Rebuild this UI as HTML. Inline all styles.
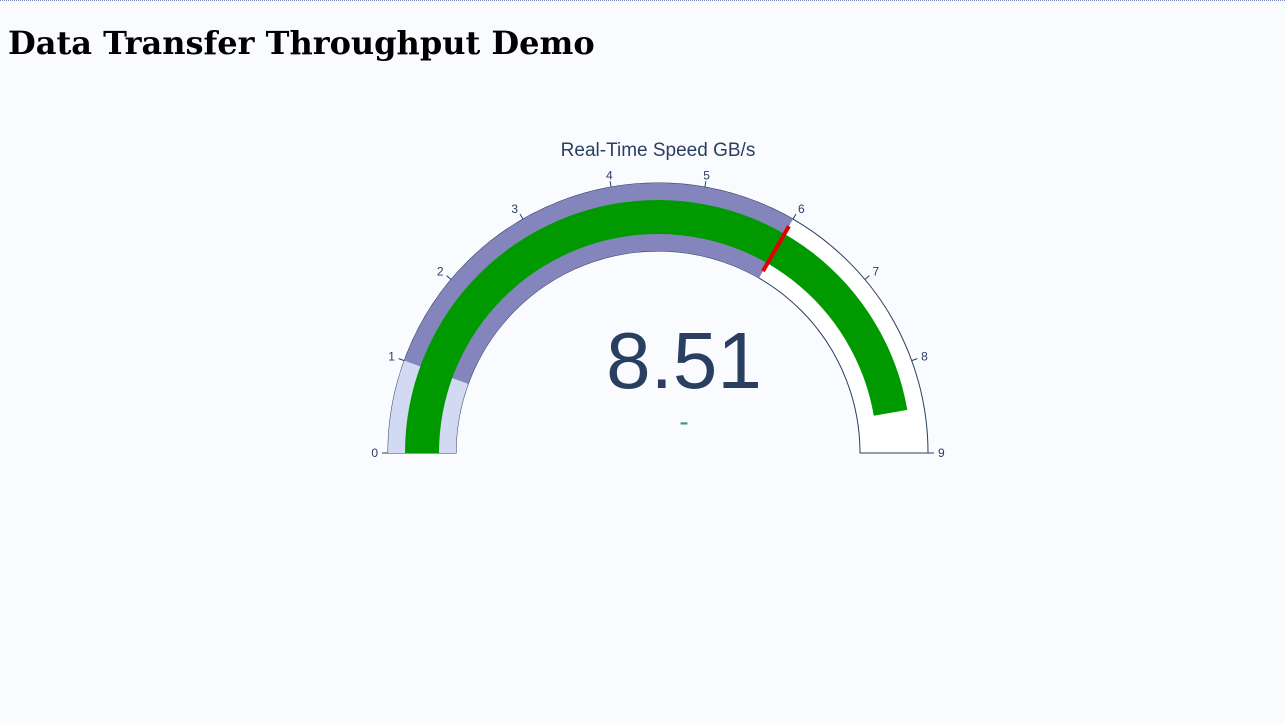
<!DOCTYPE html>
<html><head><meta charset="utf-8"><style>
html,body{margin:0;padding:0;background:#f9fbfe;width:1285px;height:723px;overflow:hidden}
#topline{position:absolute;left:0;top:0;width:1285px;border-top:1px dotted #7a8cb8}
h1{position:absolute;left:8px;top:24px;margin:0;font-family:"DejaVu Serif",serif;font-size:32px;font-weight:bold;color:#000}
svg{position:absolute;left:0;top:0}
</style></head><body>
<div id="topline"></div>
<h1>Data Transfer Throughput Demo</h1>
<svg id="g" width="1285" height="723"></svg>
<script>
const axisRange=[0,9];
const tickValues=[0,1,2,3,4,5,6,7,8,9];
const stepRanges=[[0,1],[1,6]];
const stepColors=['#d2d9f2','#8585bd'];
const gaugeValue=[8.51];
const thresholdValue=[6];
const titleText='Real-Time Speed GB/s';
const NS='http://www.w3.org/2000/svg';
const svg=document.getElementById('g');
const cx=658,cy=453,R=270,r0=202;
function ang(v){return Math.PI*(1-(v-axisRange[0])/(axisRange[1]-axisRange[0]));}
function pt(v,rad){const a=ang(v);return [cx+rad*Math.cos(a),cy-rad*Math.sin(a)];}
function arc(v0,v1,ri,ro){const a=pt(v0,ro),b=pt(v1,ro),c=pt(v1,ri),d=pt(v0,ri);
return `M${a[0]},${a[1]} A${ro},${ro} 0 0 1 ${b[0]},${b[1]} L${c[0]},${c[1]} A${ri},${ri} 0 0 0 ${d[0]},${d[1]} Z`;}
function el(t,attrs){const e=document.createElementNS(NS,t);for(const k in attrs)e.setAttribute(k,attrs[k]);svg.appendChild(e);return e;}
let bg=el('path',{d:arc(axisRange[0],axisRange[1],r0,R),fill:'#fff',stroke:'#2a3f5f','stroke-width':1});


stepRanges.forEach((s,i)=>{const p=el('path',{d:arc(s[0],s[1],r0,R),fill:stepColors[i]});

});
const bar=el('path',{d:arc(axisRange[0],gaugeValue[0],219,253),fill:'#009a00'});


const t0=pt(thresholdValue[0],r0+8),t1=pt(thresholdValue[0],R-8);
const th=el('line',{x1:t0[0],y1:t0[1],x2:t1[0],y2:t1[1],stroke:'#e00000','stroke-width':4});


tickValues.forEach(v=>{const a=pt(v,R),b=pt(v,R+6),l=pt(v,R+10);
const tk=el('line',{x1:a[0],y1:a[1],x2:b[0],y2:b[1],stroke:'#2a3f5f','stroke-width':1});


const an=ang(v);const tx=el('text',{x:l[0],y:l[1]+4-2*Math.sin(an),'font-size':12,'font-family':'Liberation Sans,sans-serif',fill:'#2a3f5f','text-anchor':Math.cos(an)>0.3?'start':(Math.cos(an)<-0.3?'end':'middle')});
tx.textContent=v;

});
const ti=el('text',{x:658,y:156,'font-size':19,'font-family':'Liberation Sans,sans-serif',fill:'#2a3f5f','text-anchor':'middle'});
ti.textContent=titleText;


const num=el('text',{x:684,y:388,'font-size':80,'font-family':'Liberation Sans,sans-serif',fill:'#2a3f5f','text-anchor':'middle'});
num.textContent=gaugeValue[0].toFixed(2);


const dl=el('text',{x:684,y:431,'font-size':28,'font-family':'Liberation Sans,sans-serif',fill:'#3d9970','text-anchor':'middle'});
dl.textContent='-';


</script>
</body></html>
